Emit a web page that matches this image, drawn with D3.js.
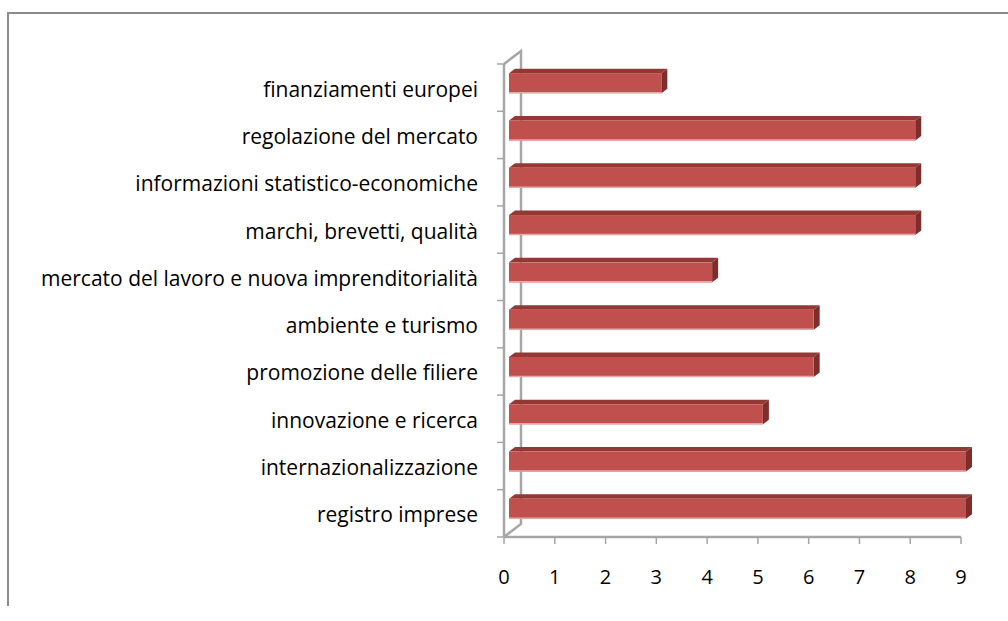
<!DOCTYPE html>
<html><head><meta charset="utf-8">
<script src="https://cdn.jsdelivr.net/npm/d3@7"></script>
<style>body{margin:0;background:#fff}svg{display:block}</style>
</head><body>
<svg id="c" width="1008" height="621"></svg>
<script>
const categories = ["finanziamenti europei","regolazione del mercato","informazioni statistico-economiche","marchi, brevetti, qualità","mercato del lavoro e nuova imprenditorialità","ambiente e turismo","promozione delle filiere","innovazione e ricerca","internazionalizzazione","registro imprese"];
const values = [3,8,8,8,4,6,6,5,9,9];
const xTicks = [0,1,2,3,4,5,6,7,8,9];

const svg = d3.select("#c");
const fx0 = 504, fx1 = 961, fy0 = 64, fy1 = 537;
const wallDx = 17, wallDy = -13;
const x = d3.scaleLinear().domain([0,9]).range([fx0, fx1]);
const y = d3.scaleBand().domain(categories).range([fy0, fy1]).paddingInner(0).paddingOuter(0);

// outer border (top and left)
svg.append("path").attr("d","M8,606 L8,13 L1008,13").attr("fill","none").attr("stroke","#8c8c8c").attr("stroke-width",2);

const grey = "#a6a6a6";
const g = svg.append("g");
// back wall lines
g.append("path").attr("d",`M${fx0},${fy0} L${fx0+wallDx},${fy0+wallDy} L${fx0+wallDx},${fy1+wallDy} L${fx0},${fy1}`)
  .attr("fill","none").attr("stroke",grey).attr("stroke-width",2.5);
// front vertical axis
g.append("line").attr("x1",fx0).attr("x2",fx0).attr("y1",fy0).attr("y2",fy1).attr("stroke",grey).attr("stroke-width",2.5);
// category ticks
const catTicks = d3.range(categories.length+1).map(i => fy0 + i*y.step());
g.selectAll(".ct").data(catTicks).join("line").attr("x1",fx0-7).attr("x2",fx0).attr("y1",d=>d).attr("y2",d=>d).attr("stroke",grey).attr("stroke-width",1.5);
// bottom axis
g.append("line").attr("x1",fx0).attr("x2",fx1).attr("y1",fy1).attr("y2",fy1).attr("stroke",grey).attr("stroke-width",2.5);
g.selectAll(".xt").data(xTicks).join("line").attr("x1",d=>x(d)).attr("x2",d=>x(d)).attr("y1",fy1).attr("y2",fy1+7).attr("stroke",grey).attr("stroke-width",1.5);
g.selectAll(".xl").data(xTicks).join("text").attr("x",d=>x(d)).attr("y",584).attr("text-anchor","middle")
  .attr("font-family","Open Sans, sans-serif").attr("font-size",20).attr("fill","#000").text(d=>d);

// category labels
g.selectAll(".cl").data(categories).join("text").attr("x",478).attr("y",d=>y(d)+y.bandwidth()/2 + 9)
  .attr("text-anchor","end").attr("font-family","Open Sans, sans-serif").attr("font-size",21).attr("fill","#000").text(d=>d);

// bars (3D)
const offX = 5, offY = -4.5, dDx = 6, dDy = -4.5, bh = 20;
const bars = g.selectAll(".bar").data(categories.map((c,i)=>({c, v: values[i]}))).join("g");
bars.each(function(d){
  const sel = d3.select(this);
  const x0 = x(0) + offX, x1 = x(d.v) + offX;
  const yc = y(d.c) + y.bandwidth()/2 + offY;
  const t = yc - bh/2, b = yc + bh/2;
  sel.append("path").attr("d",`M${x0},${t} L${x0+dDx},${t+dDy} L${x1+dDx},${t+dDy} L${x1},${t} Z`).attr("fill","#943836");
  sel.append("path").attr("d",`M${x1},${t} L${x1+dDx},${t+dDy} L${x1+dDx},${b+dDy} L${x1},${b} Z`).attr("fill","#7d2e2c");
  sel.append("rect").attr("x",x0).attr("y",t).attr("width",x1-x0).attr("height",bh).attr("fill","#c0504d");
  sel.append("line").attr("x1",x0).attr("x2",x1).attr("y1",b-0.5).attr("y2",b-0.5).attr("stroke","#e3a9a7").attr("stroke-width",1.5);
});
</script>
</body></html>
